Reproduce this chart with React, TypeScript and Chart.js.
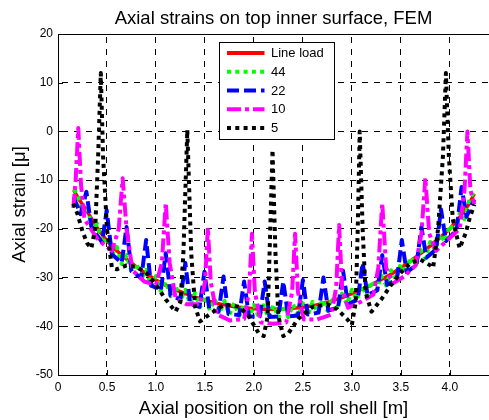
import React, { useEffect, useRef } from "react";
import { Chart, registerables } from "chart.js";

Chart.register(...registerables);

const FONT = '"Liberation Sans", Arial, Helvetica, sans-serif';

const chartTitle = "Axial strains on top inner surface, FEM";
const xAxisTitle = "Axial position on the roll shell [m]";
const yAxisTitle = "Axial strain [\u03bc]";

const xTicks = [0, 0.5, 1, 1.5, 2, 2.5, 3, 3.5, 4];
const yTicks = [-50, -40, -30, -20, -10, 0, 10, 20];

// Strain along the shell, [position m, strain µ]
const lineLoad: [number, number][] = [
  [0.16, -12], [0.2, -13.5], [0.3, -16.5], [0.4, -19.8], [0.5, -22.5], [0.6, -24.5],
  [0.7, -26.2], [0.8, -27.8], [0.9, -29.2], [1.0, -30.5], [1.1, -31.6], [1.2, -32.5],
  [1.3, -33.3], [1.4, -34], [1.5, -34.6], [1.6, -35.2], [1.7, -35.6], [1.8, -36],
  [1.9, -36.2], [2.0, -36.4], [2.1, -36.5], [2.2, -36.5], [2.3, -36.4], [2.4, -36.3],
  [2.5, -36.1], [2.6, -35.8], [2.7, -35.3], [2.8, -34.8], [2.9, -34.1], [3.0, -33.3],
  [3.1, -32.4], [3.2, -31.5], [3.3, -30.4], [3.4, -29.3], [3.5, -28], [3.6, -26.6],
  [3.7, -25.1], [3.8, -23.5], [3.9, -21.8], [4.0, -20], [4.1, -17.6], [4.2, -14.8],
  [4.25, -12.8],
];

const load44: [number, number][] = [
  [0.16, -12], [0.2, -12.7], [0.25, -16.8], [0.3, -15.7], [0.35, -20], [0.4, -19],
  [0.45, -23], [0.5, -21.7], [0.55, -25.3], [0.6, -23.7], [0.65, -27.2], [0.7, -25.4],
  [0.75, -28.8], [0.8, -27], [0.85, -30.3], [0.9, -28.4], [0.95, -31.7], [1.0, -29.7],
  [1.05, -32.8], [1.1, -30.8], [1.15, -33.8], [1.2, -31.7], [1.25, -34.7], [1.3, -32.5],
  [1.35, -35.5], [1.4, -33.2], [1.45, -36.1], [1.5, -33.8], [1.55, -36.7], [1.6, -34.4],
  [1.65, -37.2], [1.7, -34.8], [1.75, -37.6], [1.8, -35.2], [1.85, -37.9], [1.9, -35.4],
  [1.95, -38.1], [2.0, -35.6], [2.05, -38.2], [2.1, -35.7], [2.15, -38.3], [2.2, -35.7],
  [2.25, -38.2], [2.3, -35.6], [2.35, -38.1], [2.4, -35.5], [2.45, -38], [2.5, -35.3],
  [2.55, -37.7], [2.6, -35], [2.65, -37.3], [2.7, -34.5], [2.75, -36.8], [2.8, -34],
  [2.85, -36.2], [2.9, -33.3], [2.95, -35.5], [3.0, -32.5], [3.05, -34.6], [3.1, -31.6],
  [3.15, -33.7], [3.2, -30.7], [3.25, -32.7], [3.3, -29.6], [3.35, -31.6], [3.4, -28.5],
  [3.45, -30.4], [3.5, -27.2], [3.55, -29.1], [3.6, -25.8], [3.65, -27.6], [3.7, -24.3],
  [3.75, -26.1], [3.8, -22.7], [3.85, -24.4], [3.9, -21], [3.95, -22.7], [4.0, -19.2],
  [4.05, -20.6], [4.1, -16.8], [4.15, -18], [4.2, -14], [4.25, -12.3],
];

const load22: [number, number][] = [
  [0.16, -13.5], [0.23, -17], [0.29, -12.4], [0.34, -19.5], [0.45, -22.8], [0.497, -16.2],
  [0.55, -25.2], [0.65, -27], [0.7, -19.6], [0.75, -28.7], [0.85, -30.1], [0.9, -22.3],
  [0.95, -31.6], [1.05, -32.6], [1.1, -25], [1.15, -33.7], [1.25, -34.5], [1.3, -27],
  [1.35, -35.4], [1.445, -36], [1.495, -28.8], [1.545, -36.6], [1.64, -37], [1.69, -29.8],
  [1.74, -37.5], [1.85, -37.7], [1.9, -30.8], [1.95, -38], [2.06, -38], [2.11, -30.8],
  [2.16, -38.1], [2.25, -38], [2.3, -30.8], [2.35, -38], [2.45, -37.8], [2.5, -30.5],
  [2.55, -37.6], [2.66, -37.2], [2.71, -30], [2.76, -36.8], [2.86, -36.1], [2.91, -28.6],
  [2.96, -35.5], [3.06, -34.5], [3.11, -27], [3.16, -33.6], [3.26, -32.6], [3.31, -25.4],
  [3.36, -31.5], [3.46, -30.3], [3.51, -22.3], [3.56, -28.9], [3.66, -27.4], [3.71, -19.6],
  [3.76, -25.9], [3.86, -24.2], [3.91, -16], [3.96, -22.5], [4.07, -20.2], [4.12, -11.4],
  [4.17, -17.5], [4.25, -14],
];

const load10: [number, number][] = [
  [0.157, -15.7], [0.18, -10], [0.207, 0.7], [0.235, -11], [0.27, -18], [0.41, -22.3],
  [0.55, -24.5], [0.62, -20], [0.66, -9.6], [0.7, -20], [0.76, -28.5], [0.88, -30.8],
  [1.0, -31.5], [1.06, -27], [1.1, -14.7], [1.14, -27], [1.2, -34.2], [1.315, -35.5],
  [1.45, -35.5], [1.5, -31], [1.53, -19.8], [1.56, -31], [1.62, -37.5], [1.755, -38.8],
  [1.9, -38.5], [1.95, -33], [1.98, -21], [2.01, -33], [2.07, -39.2], [2.2, -39.5],
  [2.33, -39.2], [2.39, -33], [2.42, -21], [2.45, -33], [2.51, -38.6], [2.645, -38.6],
  [2.79, -37.6], [2.84, -32], [2.87, -19.2], [2.9, -32], [2.96, -36.2], [3.09, -35],
  [3.22, -33.5], [3.27, -28], [3.31, -14.7], [3.35, -28], [3.42, -31.2], [3.53, -29.8],
  [3.65, -27.5], [3.71, -21], [3.75, -9.6], [3.79, -21], [3.86, -24.5], [3.965, -22.5],
  [4.1, -20], [4.15, -12], [4.18, 0], [4.21, -12], [4.25, -15],
];

const load5: [number, number][] = [
  [0.156, -14.8], [0.2, -17], [0.25, -20.5], [0.3, -23], [0.34, -24], [0.38, -20],
  [0.41, -5], [0.437, 12], [0.46, -5], [0.5, -20], [0.55, -28], [0.6, -28.3],
  [0.7, -27.5], [0.8, -27.8], [0.9, -29], [1.0, -31.5], [1.1, -34.5], [1.2, -37],
  [1.25, -35], [1.28, -25], [1.32, 0.3], [1.36, -25], [1.4, -36], [1.45, -39],
  [1.55, -37.5], [1.7, -35.5], [1.85, -36], [1.95, -38], [2.05, -41.5], [2.1, -42],
  [2.14, -38], [2.16, -25], [2.19, -3.8], [2.22, -25], [2.25, -38], [2.3, -42],
  [2.35, -41.5], [2.45, -38.5], [2.6, -36], [2.75, -35.5], [2.85, -36.5], [2.95, -38.5],
  [3.0, -39.7], [3.04, -35], [3.06, -20], [3.08, 0], [3.11, -20], [3.14, -33],
  [3.2, -37], [3.3, -34.5], [3.4, -31.5], [3.5, -29], [3.6, -27], [3.7, -26.3],
  [3.8, -27.5], [3.83, -28], [3.88, -20], [3.93, -5], [3.96, 12], [3.99, -5],
  [4.03, -18], [4.1, -24], [4.16, -21], [4.2, -18], [4.25, -15],
];

const seriesNames = ["Line load", "44", "22", "10", "5"];
const seriesData = [lineLoad, load44, load22, load10, load5];
const seriesColors = ["#ff0000", "#00ff00", "#0000ff", "#ff00ff", "#000000"];
const seriesDash: number[][] = [[], [4, 4.3], [12, 5], [14, 4, 4, 4], [4, 4.3]];
const seriesWidth = [3.5, 4, 4, 4, 4];

const framePlugin = {
  id: "matlabFrame",
  beforeDatasetsDraw(chart: any) {
    const { ctx, chartArea: a, scales } = chart;
    ctx.save();
    ctx.strokeStyle = "#000";
    ctx.lineWidth = 1;
    ctx.setLineDash([]);
    ctx.beginPath();
    ctx.moveTo(a.left, a.top + 0.5);
    ctx.lineTo(a.right, a.top + 0.5);
    for (const v of xTicks) {
      const px = Math.round(scales.x.getPixelForValue(v)) + 0.5;
      ctx.moveTo(px, a.bottom);
      ctx.lineTo(px, a.bottom - 5);
    }
    for (const v of yTicks) {
      const py = Math.round(scales.y.getPixelForValue(v)) + 0.5;
      ctx.moveTo(a.left, py);
      ctx.lineTo(a.left + 5, py);
    }
    ctx.stroke();
    ctx.restore();
  },
  afterDraw(chart: any) {
    const { ctx, chartArea: a } = chart;
    const cx = (a.left + a.right) / 2;
    const cy = (a.top + a.bottom) / 2;
    ctx.save();
    ctx.fillStyle = "#000";
    ctx.textAlign = "center";
    ctx.textBaseline = "alphabetic";
    ctx.font = `18.5px ${FONT}`;
    ctx.fillText(chartTitle, cx, a.top - 10.5);
    ctx.fillText(xAxisTitle, cx, a.bottom + 39);
    ctx.save();
    ctx.translate(25, cy);
    ctx.rotate(-Math.PI / 2);
    ctx.fillText(yAxisTitle, 0, 0);
    ctx.restore();

    // legend box
    const lx = a.left + 161.5;
    const ly = a.top + 8.5;
    const lw = 115;
    const lh = 97;
    ctx.fillStyle = "#fff";
    ctx.fillRect(lx, ly, lw, lh);
    ctx.strokeStyle = "#000";
    ctx.lineWidth = 1;
    ctx.setLineDash([]);
    ctx.strokeRect(lx, ly, lw, lh);
    ctx.font = `13px ${FONT}`;
    ctx.textAlign = "left";
    ctx.textBaseline = "middle";
    seriesNames.forEach((name, i) => {
      const ry = ly + 10.5 + i * 18.75;
      ctx.save();
      ctx.strokeStyle = seriesColors[i];
      ctx.lineWidth = 4;
      ctx.lineCap = "butt";
      ctx.setLineDash(seriesDash[i]);
      ctx.beginPath();
      ctx.moveTo(lx + 7.5, ry);
      ctx.lineTo(lx + 45, ry);
      ctx.stroke();
      ctx.restore();
      ctx.fillStyle = "#000";
      ctx.fillText(name, lx + 51.5, ry + 0.5);
    });
    ctx.restore();
  },
};

export default function App() {
  const ref = useRef<HTMLCanvasElement>(null);

  useEffect(() => {
    const canvas = ref.current;
    if (!canvas) return;
    const datasets = seriesData.map((pts, i) => ({
      label: seriesNames[i],
      data: pts.map(([x, y]) => ({ x, y })),
      borderColor: seriesColors[i],
      backgroundColor: seriesColors[i],
      borderWidth: seriesWidth[i],
      borderDash: seriesDash[i],
      borderCapStyle: "butt" as const,
      borderJoinStyle: "round" as const,
      pointRadius: 0,
      tension: 0,
      fill: false,
      order: seriesNames.length - 1 - i,
    }));
    const tickFont = { family: FONT, size: 12 };
    const chart = new Chart(canvas, {
      type: "line",
      data: { datasets },
      options: {
        animation: false,
        responsive: false,
        devicePixelRatio: 1,
        layout: { padding: { top: 34, left: 0, right: 0, bottom: 0 } },
        plugins: {
          legend: { display: false },
          tooltip: { enabled: false },
          title: { display: false },
        },
        scales: {
          x: {
            type: "linear",
            min: 0,
            max: 4.4,
            afterBuildTicks: (s: any) => {
              s.ticks = xTicks.map((v) => ({ value: v }));
            },
            afterFit: (s: any) => {
              s.height = 45;
            },
            grid: { color: "#000", lineWidth: 1, drawTicks: false, tickLength: 0 },
            border: { display: true, color: "#000", width: 1, dash: [6, 6], dashOffset: 9 },
            ticks: { autoSkip: false, maxRotation: 0, color: "#000", font: tickFont, padding: 5 },
          },
          y: {
            type: "linear",
            min: -50,
            max: 20,
            afterBuildTicks: (s: any) => {
              s.ticks = yTicks.map((v) => ({ value: v }));
            },
            afterFit: (s: any) => {
              s.width = 58;
            },
            grid: { color: "#000", lineWidth: 1, drawTicks: false, tickLength: 0 },
            border: { display: true, color: "#000", width: 1, dash: [6, 6], dashOffset: 9 },
            ticks: { autoSkip: false, color: "#000", font: tickFont, padding: 5 },
          },
        },
      } as any,
      plugins: [framePlugin],
    });
    return () => chart.destroy();
  }, []);

  return (
    <div style={{ position: "absolute", left: 0, top: 0, width: 489, height: 420, background: "#fff" }}>
      <canvas ref={ref} width={489} height={420} style={{ display: "block", width: 489, height: 420 }} />
    </div>
  );
}
